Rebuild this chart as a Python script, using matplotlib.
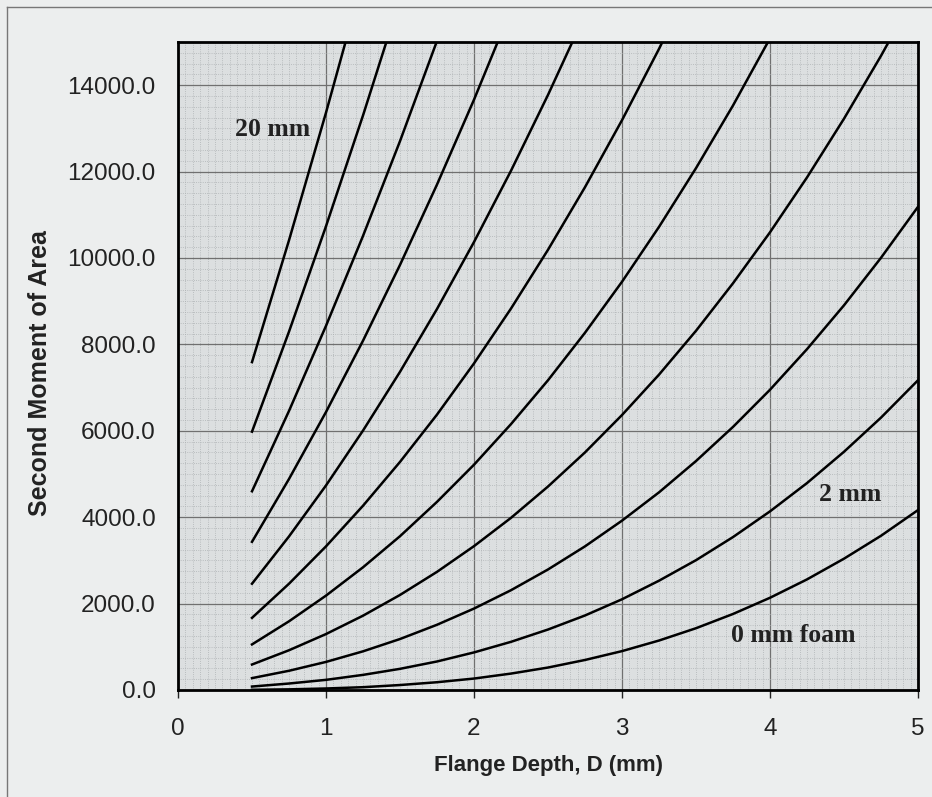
import matplotlib.pyplot as plt
from matplotlib.lines import Line2D
from matplotlib.ticker import MultipleLocator, FormatStrFormatter

# flange depth D (mm) and second moment of area for each foam thickness
depth = [0.5, 0.75, 1.0, 1.25, 1.5, 1.75, 2.0, 2.25, 2.5, 2.75,
         3.0, 3.25, 3.5, 3.75, 4.0, 4.25, 4.5, 4.75, 5.0]

foam_0 = [5, 15, 35, 65, 115, 180, 265, 380, 520, 695,
          900, 1145, 1430, 1760, 2135, 2560, 3040, 3570, 4165]
foam_2 = [80, 150, 235, 350, 490, 660, 870, 1115, 1400, 1725,
          2100, 2530, 3005, 3540, 4135, 4790, 5515, 6305, 7170]
foam_4 = [275, 445, 650, 895, 1180, 1510, 1885, 2310, 2790, 3325,
          3920, 4575, 5300, 6090, 6950, 7890, 8905, 10005, 11185]
foam_6 = [590, 920, 1295, 1720, 2200, 2735, 3330, 3985, 4710, 5500,
          6365, 7300, 8315, 9415, 10595, 11865, 13225, 14680, 16230]
foam_8 = [1055, 1590, 2185, 2840, 3560, 4355, 5215, 6155, 7170, 8270,
          9450, 10720, 12080, 13530, 15085]
foam_10 = [1670, 2460, 3325, 4265, 5280, 6375, 7560, 8830, 10190, 11640,
           13190, 14840, 16595]
foam_12 = [2460, 3555, 4735, 6005, 7365, 8820, 10370, 12020, 13775, 15635]
foam_14 = [3430, 4885, 6435, 8085, 9840, 11700, 13665, 15750]
foam_16 = [4600, 6460, 8430, 10510, 12705, 15025]
foam_18 = [5980, 8295, 10735, 13300, 15990]
foam_20 = [7590, 10410, 13365, 16460]

curves = [foam_0, foam_2, foam_4, foam_6, foam_8, foam_10,
          foam_12, foam_14, foam_16, foam_18, foam_20]

# curve labels: (text, D, value)
labels = [('20 mm', 0.64, 12975), ('2 mm', 4.54, 4520), ('0 mm foam', 4.16, 1250)]

fig = plt.figure(figsize=(9.32, 7.97), dpi=100, facecolor='#eceeee')
ax = fig.add_axes([178 / 932, 1 - 690 / 797, 740 / 932, 648 / 797])
ax.set_facecolor('#dcdfe0')

for ys in curves:
    ax.plot(depth[:len(ys)], ys, color='black', lw=1.8, zorder=3)

for txt, x, y in labels:
    ax.text(x, y, txt, ha='center', va='center', fontsize=18.5,
            fontweight='bold', family='Liberation Serif', color='#222222',
            zorder=4)

ax.set_xlim(0, 5)
ax.set_ylim(0, 15000)
ax.xaxis.set_major_locator(MultipleLocator(1))
ax.yaxis.set_major_locator(MultipleLocator(2000))
ax.xaxis.set_minor_locator(MultipleLocator(0.05))
ax.yaxis.set_minor_locator(MultipleLocator(250))
ax.yaxis.set_major_formatter(FormatStrFormatter('%.1f'))

ax.grid(which='major', color='#707070', lw=0.9, zorder=1)
ax.grid(which='minor', color='#aeb2b4', lw=0.6, ls=':', zorder=0)
ax.set_axisbelow(True)

for s in ax.spines.values():
    s.set_linewidth(2)
    s.set_color('black')

ax.tick_params(axis='x', which='major', length=6, width=1, pad=14,
               labelsize=17.5, colors='#222222')
ax.tick_params(axis='y', which='major', length=0, pad=16,
               labelsize=17.5, colors='#222222')
ax.tick_params(which='minor', length=0)
for lab in ax.get_xticklabels() + ax.get_yticklabels():
    lab.set_family('Liberation Sans')

ax.set_xlabel('Flange Depth, D (mm)', fontsize=16, fontweight='bold',
              family='Liberation Sans', color='#222222', va='center')
ax.xaxis.set_label_coords(0.5, -0.117)
ax.set_ylabel('Second Moment of Area', fontsize=18, fontweight='bold',
              family='Liberation Sans', color='#222222', va='center')
ax.yaxis.set_label_coords(-0.187, 0.489)

# chart-area border (top and left visible in the scan)
fig.add_artist(Line2D([7 / 932, 7 / 932], [0, 1 - 7 / 797], color='#777777', lw=1))
fig.add_artist(Line2D([7 / 932, 1], [1 - 7 / 797, 1 - 7 / 797], color='#777777', lw=1))

fig.savefig('out.png', dpi=100, facecolor=fig.get_facecolor())
